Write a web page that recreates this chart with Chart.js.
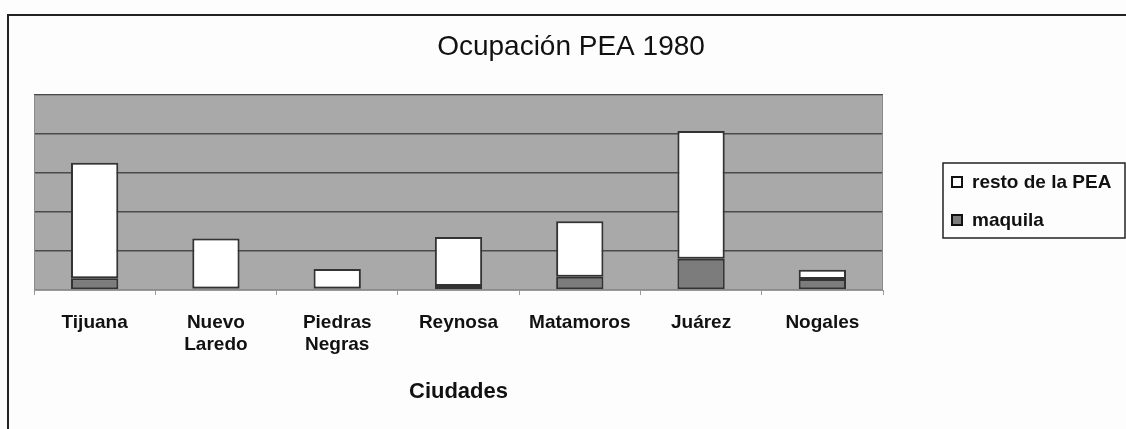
<!DOCTYPE html>
<html>
<head>
<meta charset="utf-8">
<script src="https://cdn.jsdelivr.net/npm/chart.js@4/dist/chart.umd.min.js"></script>
<style>
html,body{margin:0;padding:0;background:#fdfdfd;}
#wrap{width:1126px;height:429px;position:relative;}
</style>
</head>
<body>
<div id="wrap"><canvas id="c" width="1126" height="429"></canvas></div>
<script>
const categories = [["Tijuana"], ["Nuevo", "Laredo"], ["Piedras", "Negras"], ["Reynosa"], ["Matamoros"], ["Juárez"], ["Nogales"]];
const maquila = [15, 2, 2, 5, 17, 40, 14];
const restoPEA = [148, 64, 25, 63, 71, 164, 12];
const seriesLabels = ["maquila", "resto de la PEA"];
const titleText = "Ocupación PEA 1980";
const xTitle = "Ciudades";

const FONT = "'Liberation Sans', Arial, sans-serif";

const framePlugin = {
  id: 'frame',
  beforeDraw(chart) {
    const ctx = chart.ctx, a = chart.chartArea;
    ctx.save();
    ctx.fillStyle = '#fdfdfd';
    ctx.fillRect(0, 0, chart.width, chart.height);
    ctx.fillStyle = '#a9a9a9';
    ctx.fillRect(a.left, a.top, a.right - a.left, a.bottom - a.top);
    ctx.restore();
  },
  afterDraw(chart) {
    const ctx = chart.ctx, a = chart.chartArea;
    ctx.save();
    // plot border
    ctx.strokeStyle = '#8a8a8a';
    ctx.lineWidth = 1;
    ctx.strokeRect(a.left + 0.5, a.top + 0.5, a.right - a.left - 1, a.bottom - a.top - 1);
    // outer frame (top and left only visible)
    ctx.strokeStyle = '#222';
    ctx.lineWidth = 2;
    ctx.beginPath();
    ctx.moveTo(8, 429);
    ctx.lineTo(8, 15);
    ctx.lineTo(1126, 15);
    ctx.stroke();
    // title
    ctx.fillStyle = '#111';
    ctx.font = "28px " + FONT;
    ctx.textAlign = 'center';
    ctx.textBaseline = 'middle';
    ctx.fillText(titleText, 571, 47);
    // legend
    const lx = 943, ly = 163, lw = 182, lh = 75;
    ctx.strokeStyle = '#222';
    ctx.lineWidth = 1.5;
    ctx.strokeRect(lx, ly, lw, lh);
    const ds = chart.data.datasets.slice().reverse();
    ctx.font = "bold 19px " + FONT;
    ctx.textAlign = 'left';
    ds.forEach((d, i) => {
      const cy = 182 + i * 38;
      ctx.fillStyle = d.backgroundColor;
      ctx.fillRect(952, cy - 5, 10, 10);
      ctx.strokeStyle = '#111';
      ctx.lineWidth = 2;
      ctx.strokeRect(952, cy - 5, 10, 10);
      ctx.fillStyle = '#111';
      ctx.fillText(d.label, 972, cy + 1);
    });
    ctx.restore();
  }
};

new Chart(document.getElementById('c'), {
  type: 'bar',
  data: {
    labels: categories,
    datasets: [
      { label: seriesLabels[0], data: maquila, backgroundColor: '#7c7c7c', borderColor: '#333', borderWidth: 2, borderSkipped: false },
      { label: seriesLabels[1], data: restoPEA, backgroundColor: '#ffffff', borderColor: '#333', borderWidth: 2, borderSkipped: false }
    ]
  },
  options: {
    responsive: false,
    animation: false,
    devicePixelRatio: 1,
    layout: { padding: { left: 34, right: 243, top: 95, bottom: 24 } },
    datasets: { bar: { categoryPercentage: 1, barPercentage: 0.39 } },
    plugins: {
      legend: { display: false },
      tooltip: { enabled: false },
      title: { display: false }
    },
    scales: {
      x: {
        stacked: true,
        grid: { display: true, drawOnChartArea: false, drawTicks: true, tickLength: 5, color: '#999', offset: true },
        border: { display: true, color: '#999', width: 1 },
        ticks: { color: '#111', font: { family: FONT, size: 19, weight: 'bold' }, padding: 16, maxRotation: 0, autoSkip: false },
        title: { display: true, text: xTitle, color: '#111', font: { family: FONT, size: 22, weight: 'bold' }, padding: { top: 6, bottom: 0 } }
      },
      y: {
        stacked: true,
        min: 0, max: 250,
        ticks: { display: false, stepSize: 50 },
        grid: { color: '#4a4a4a', lineWidth: 1.5, drawTicks: false },
        border: { display: false }
      }
    }
  },
  plugins: [framePlugin]
});
</script>
</body>
</html>
